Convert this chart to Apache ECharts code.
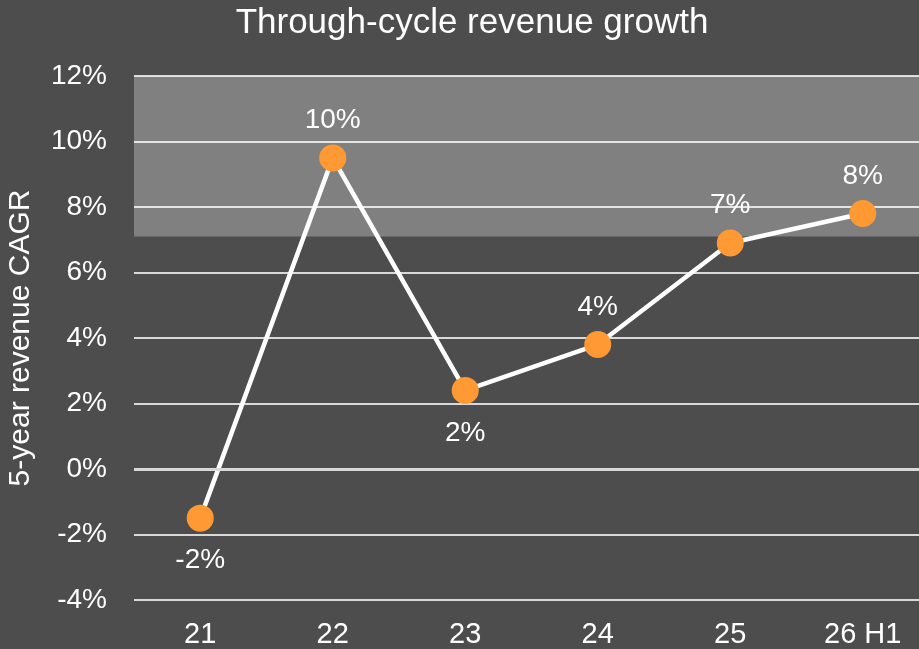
<!DOCTYPE html>
<html>
<head>
<meta charset="utf-8">
<script src="https://cdn.jsdelivr.net/npm/echarts@6/dist/echarts.min.js"></script>
<style>
  html, body { margin: 0; padding: 0; background: #4d4d4d; }
  #chart { width: 919px; height: 649px; }
</style>
</head>
<body>
<div id="chart"></div>
<script>
// chart values
const categories = ['21', '22', '23', '24', '25', '26 H1'];
const cagr = [-1.5, 9.5, 2.4, 3.8, 6.9, 7.8];
const labelText = ['-2%', '10%', '2%', '4%', '7%', '8%'];
const labelPos = ['bottom', 'top', 'bottom', 'top', 'top', 'top'];
const bandRange = [7.1, 12];

const font = '"Liberation Sans", Arial, sans-serif';

const myChart = echarts.init(document.getElementById('chart'));

const pointData = cagr.map((v, i) => ({
  value: v,
  label: {
    position: labelPos[i],
    distance: labelPos[i] === 'bottom' ? 15 : 10,
    formatter: labelText[i],
  },
}));

myChart.setOption({
  animation: false,
  backgroundColor: '#4d4d4d',
  textStyle: { fontFamily: font },
  title: {
    text: 'Through-cycle revenue growth',
    left: 467,
    textAlign: 'center',
    top: 1,
    textStyle: {
      color: '#ffffff',
      fontSize: 35,
      fontWeight: 'normal',
      fontFamily: font,
    },
  },
  grid: {
    left: 134,
    right: -10,
    top: 76,
    bottom: 49,
    containLabel: false,
    outerBoundsMode: 'none',
  },
  xAxis: {
    type: 'category',
    data: categories,
    boundaryGap: true,
    axisLine: { show: false },
    axisTick: { show: false },
    axisLabel: {
      color: '#ffffff',
      fontSize: 29,
      margin: 20,
      fontFamily: font,
    },
  },
  yAxis: {
    type: 'value',
    min: -4,
    max: 12,
    interval: 2,
    name: '5-year revenue CAGR',
    nameLocation: 'middle',
    nameGap: 98,
    nameRotate: 90,
    nameTextStyle: {
      color: '#ffffff',
      fontSize: 30,
      fontFamily: font,
    },
    axisLine: { show: false },
    axisTick: { show: false },
    axisLabel: {
      color: '#ffffff',
      fontSize: 28,
      margin: 27,
      fontFamily: font,
      formatter: '{value}%',
    },
    splitLine: {
      lineStyle: { color: '#d9d9d9', width: 2 },
    },
  },
  series: [
    {
      // shaded band and zero line
      type: 'line',
      z: 1,
      data: categories.map(() => null),
      symbol: 'none',
      silent: true,
      markArea: {
        silent: true,
        itemStyle: { color: 'rgba(255,255,255,0.287)' },
        data: [[{ yAxis: bandRange[0] }, { yAxis: bandRange[1] }]],
      },
      markLine: {
        silent: true,
        symbol: 'none',
        label: { show: false },
        lineStyle: { color: '#d9d9d9', width: 3, type: 'solid' },
        data: [{ yAxis: 0 }],
      },
    },
    {
      type: 'line',
      z: 3,
      data: pointData,
      symbol: 'circle',
      symbolSize: 27,
      lineStyle: { color: '#ffffff', width: 4.5 },
      itemStyle: { color: '#ff9933', borderWidth: 0 },
      label: {
        show: true,
        color: '#ffffff',
        fontSize: 28,
        fontFamily: font,
      },
    },
  ],
});
</script>
</body>
</html>
